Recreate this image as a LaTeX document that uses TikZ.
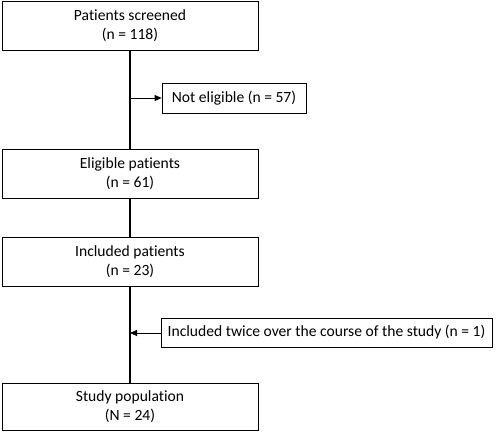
\documentclass[tikz,border=0pt]{standalone}
\usepackage{fontspec}
\setmainfont[Ligatures=NoCommon]{Carlito}
\usetikzlibrary{arrows.meta}
\begin{document}
\begin{tikzpicture}[x=1pt,y=-1pt,
  mainbox/.style={draw, line width=0.8pt, minimum width=256pt, minimum height=49pt, align=center, inner sep=0pt,
    font=\fontsize{15.6}{19}\selectfont},
  sidebox/.style={draw, line width=0.8pt, minimum height=30pt, align=center, inner sep=0pt,
    font=\fontsize{15.6}{19}\selectfont},
  flow/.style={line width=1.6pt},
  sidearrow/.style={line width=0.8pt, -{Triangle[length=7pt,width=6pt]}}]
\useasboundingbox (0,0) rectangle (500,433);
\node[mainbox] (screen) at (130,26) {Patients screened\\(n = 118)};
\node[sidebox, minimum width=144pt] (noteli) at (234,98) {Not eligible (n = 57)};
\node[mainbox] (elig) at (130,173.5) {Eligible patients\\(n = 61)};
\node[mainbox] (incl) at (130,261.5) {Included patients\\(n = 23)};
\node[sidebox, minimum width=331pt, minimum height=29pt] (twice) at (326.5,332.5) {Included twice over the course of the study (n = 1)};
\node[mainbox, minimum height=47pt] (study) at (130,406.5) {Study population\\(N = 24)};
\coordinate (j1) at (130,98);
\coordinate (j2) at (130,333);
\draw[flow] (screen.south) -- (elig.north);
\draw[flow] (elig.south) -- (incl.north);
\draw[flow] (incl.south) -- (study.north);
\draw[sidearrow] (j1) -- (noteli.west);
\draw[sidearrow] (twice.west |- j2) -- (j2);
\end{tikzpicture}
\end{document}
